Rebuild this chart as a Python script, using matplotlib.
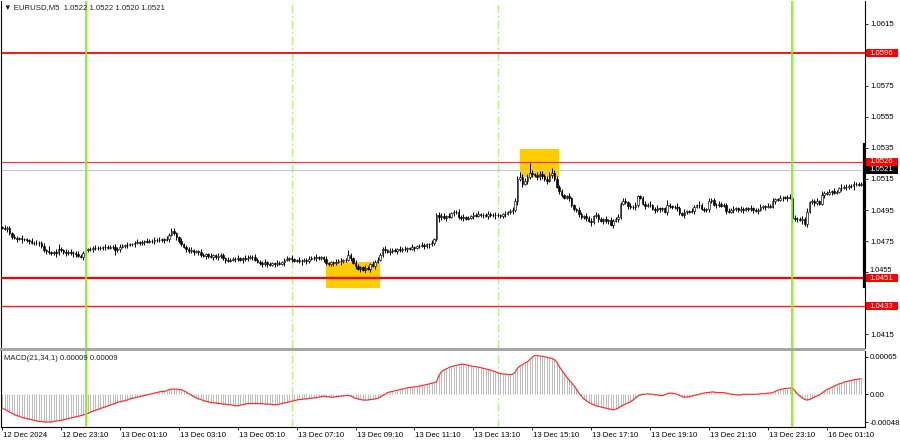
import matplotlib
matplotlib.use("Agg")
import matplotlib.pyplot as plt
import matplotlib.transforms as mtransforms
from matplotlib.patches import Rectangle
import numpy as np

# ---------------- data ----------------
BASE = 1.04000          # closes / macd stored as offsets in points (1e-5)
first_open_pts = 840
closes_pts = [
    836, 830, 834, 800, 776, 770, 765, 768, 760, 762,
    756, 748, 740, 737, 735, 738, 718, 690, 685, 678,
    672, 676, 670, 700, 690, 676, 672, 680, 670, 675,
    668, 655, 648, 675, 692, 698, 700, 705, 702, 708,
    704, 710, 712, 706, 714, 709, 690, 700, 712, 718,
    722, 726, 728, 730, 738, 742, 736, 745, 748, 744,
    752, 748, 755, 758, 754, 760, 757, 762, 790, 812,
    800, 775, 750, 730, 712, 700, 685, 690, 680, 684,
    678, 660, 655, 664, 652, 650, 658, 646, 652, 660,
    640, 628, 624, 630, 636, 632, 638, 630, 640, 634,
    642, 650, 645, 630, 615, 608, 600, 612, 604, 596,
    606, 602, 610, 604, 612, 628, 634, 640, 632, 622,
    626, 618, 624, 628, 620, 636, 642, 640, 646, 638,
    644, 635, 605, 600, 612, 606, 616, 622, 618, 625,
    630, 660, 640, 610, 590, 570, 582, 565, 578, 572,
    600, 590, 615, 630, 660, 700, 690, 680, 685, 695,
    688, 698, 692, 700, 696, 704, 700, 710, 706, 715,
    720, 725, 718, 730, 728, 735, 760, 920, 905, 912,
    900, 910, 906, 930, 940, 935, 905, 898, 902, 895,
    900, 910, 918, 914, 922, 916, 920, 912, 924, 918,
    915, 920, 916, 910, 922, 925, 935, 945, 950, 1010,
    1150, 1165, 1120, 1135, 1160, 1190, 1180, 1175, 1165, 1180,
    1170, 1150, 1140, 1175, 1190, 1150, 1100, 1075, 1045, 1030,
    1040, 1025, 980, 955, 950, 925, 905, 910, 900, 880,
    870, 910, 920, 895, 880, 890, 878, 885, 855, 880,
    895, 905, 990, 1005, 1000, 975, 968, 972, 980, 1040,
    1030, 990, 978, 985, 980, 958, 950, 962, 955, 960,
    940, 985, 975, 968, 972, 965, 930, 920, 935, 942,
    938, 945, 972, 980, 985, 958, 950, 955, 1005, 1015,
    985, 980, 990, 978, 982, 945, 940, 950, 955, 960,
    950, 958, 952, 962, 956, 960, 950, 945, 952, 968,
    975, 970, 978, 972, 1010, 1020, 1015, 1025, 1030, 1028,
    1035, 1030, 900, 890, 895, 888, 892, 860, 940, 1000,
    1010, 995, 1005, 990, 1050, 1060, 1055, 1065, 1070, 1062,
    1068, 1090, 1095, 1100, 1098, 1105, 1102, 1115, 1120, 1112,
    1118,
]
# wick lengths in pips, one digit per bar
wick_up = ("1211121121" "1121211213" "1123112121" "1211211121" "1121112121"
           "1211121112" "1121211212" "2112111211" "1211121121" "1121112112"
           "2112111211" "1121112121" "1211121121" "1121112121" "1311211121"
           "1212112121" "1121211211" "1211121122" "2121112121" "1121211121"
           "1211121122" "2322262122" "2122322111" "1211121121" "2121112121"
           "1212212121" "1121211211" "1311121121" "1211211121" "1121112121"
           "1211121112" "1121211211" "1212112121" "1121211212" "1121211211" "1")
wick_dn = ("1121112121" "1211121121" "1121112112" "2112111211" "1121113121"
           "1211211121" "1121112121" "1211121121" "2112112121" "1211121121"
           "1121112121" "1211121121" "1121211121" "1211121121" "1121212121"
           "2121112121" "1211121121" "1121211132" "1211211121" "1121112121"
           "1211121121" "3121212122" "2121211211" "1211121121" "2112121212"
           "1211121121" "1121112121" "1211121121" "1121211121" "1211121121"
           "1121112121" "1211121121" "2131213121" "1211121121" "1121211211" "1")
macd_pts = [
    -24, -26, -28, -31, -33, -35, -37, -38, -40, -41,
    -42, -43, -44, -45, -46, -47, -47, -48, -48, -48,
    -48, -47, -46, -46, -45, -44, -43, -42, -41, -40,
    -39, -38, -37, -36, -34, -33, -31, -29, -28, -26,
    -25, -23, -22, -20, -19, -17, -16, -14, -13, -12,
    -11, -10, -8, -7, -6, -5, -4, -3, -2, -1,
    0, 1, 2, 3, 4, 5, 5, 6, 8, 9,
    9, 9, 8, 8, 6, 4, 1, -1, -4, -6,
    -8, -9, -11, -12, -13, -14, -15, -15, -16, -16,
    -17, -17, -18, -18, -19, -20, -20, -19, -18, -17,
    -16, -16, -16, -16, -16, -16, -16, -17, -17, -17,
    -18, -18, -18, -17, -16, -15, -14, -13, -12, -11,
    -10, -9, -9, -8, -8, -7, -7, -6, -6, -5,
    -4, -3, -4, -4, -5, -5, -4, -4, -3, -3,
    -2, -2, -3, -5, -7, -8, -9, -10, -10, -10,
    -9, -9, -8, -7, -5, -2, 0, 3, 4, 5,
    6, 7, 8, 9, 10, 11, 12, 12, 13, 13,
    14, 15, 16, 17, 18, 19, 20, 21, 33, 39,
    42, 44, 46, 48, 49, 50, 51, 52, 52, 51,
    50, 49, 48, 48, 47, 46, 45, 44, 43, 42,
    40, 39, 37, 36, 35, 35, 34, 34, 35, 38,
    45, 49, 51, 54, 56, 60, 64, 67, 67, 66,
    66, 65, 64, 63, 62, 60, 56, 48, 42, 36,
    30, 25, 20, 15, 9, 2, -3, -8, -11, -14,
    -16, -18, -20, -21, -22, -23, -24, -25, -26, -27,
    -26, -24, -21, -19, -17, -15, -13, -10, -7, -3,
    -1, 0, 0, 1, 0, 0, -1, -1, -2, -2,
    -1, 1, 2, 2, 1, 0, -2, -4, -5, -5,
    -4, -3, -2, -1, 0, 1, 2, 3, 3, 4,
    4, 3, 3, 3, 3, 2, 1, 0, 0, -1,
    -1, -1, 0, 0, 0, 0, 0, 0, 0, 1,
    1, 1, 2, 2, 3, 5, 7, 8, 9, 10,
    10, 11, 11, 6, 1, -3, -6, -9, -10, -9,
    -7, -5, -3, -1, 2, 5, 8, 10, 12, 14,
    16, 18, 19, 21, 22, 23, 24, 25, 26, 26,
    27,
]
time_labels = ["12 Dec 2024", "12 Dec 23:10", "13 Dec 01:10", "13 Dec 03:10",
               "13 Dec 05:10", "13 Dec 07:10", "13 Dec 09:10", "13 Dec 11:10",
               "13 Dec 13:10", "13 Dec 15:10", "13 Dec 17:10", "13 Dec 19:10",
               "13 Dec 21:10", "13 Dec 23:10", "16 Dec 01:10"]
time_label_bars = [0, 24, 48, 72, 96, 120, 144, 168, 192, 216, 240, 264, 288, 312, 336]
level_prices = [1.0596, 1.0526, 1.0451, 1.0433]
level_texts = ["1.0596", "1.0526", "1.0451", "1.0433"]
bid_price = 1.0521
bid_text = "1.0521"
day_sep_bars = [34, 322]          # 13 Dec 00:00, 16 Dec 00:00
session_bars = [118, 202]         # 13 Dec 07:00, 13 Dec 14:00
zones = [(131.9, 154.0, 1.04445, 1.04617), (211.0, 227.1, 1.05161, 1.05342)]
price_ticks = [1.0415, 1.0435, 1.0455, 1.0475, 1.0495, 1.0515, 1.0535,
               1.0555, 1.0575, 1.0595, 1.0615]
price_tick_labels = ["1.0415", "", "1.0455", "1.0475", "1.0495", "1.0515", "1.0535",
                     "1.0555", "1.0575", "", "1.0615"]
macd_ticks = [0.00065, 0.0, -0.00048]
macd_tick_labels = ["0.00065", "0.00", "-0.00048"]
title_text = "\u25bc EURUSD,M5  1.0522 1.0522 1.0520 1.0521"
macd_text = "MACD(21,34,1) 0.00009 0.00009"

# ---------------- figure ----------------
W, H = 900, 441
FS = 5.6
FONT = ["Liberation Sans", "DejaVu Sans"]
plt.rcParams["font.family"] = FONT
fig = plt.figure(figsize=(W / 100, H / 100), dpi=100)
fig.patch.set_facecolor("white")

def fx(px):
    return px / W

def fy(py):
    return 1 - py / H

ax = fig.add_axes([fx(1), fy(348), fx(864), 347 / H])
axm = fig.add_axes([fx(1), fy(427), fx(864), 76 / H])

n = len(closes_pts)
x = np.arange(n)
c = np.array(closes_pts, dtype=float)
o = np.concatenate([[first_open_pts], c[:-1]])
up = np.array([int(ch) for ch in wick_up[:n]]) * 10
dn = np.array([int(ch) for ch in wick_dn[:n]]) * 10
hi = np.maximum(o, c) + up
lo = np.minimum(o, c) - dn
to_p = lambda v: BASE + np.asarray(v) / 1e5

# zones (behind)
for x0, x1, p0, p1 in zones:
    ax.add_patch(Rectangle((x0, p0), x1 - x0, p1 - p0, facecolor="#ffcc00",
                           edgecolor="none", zorder=1))

# levels
ax.axhline(level_prices[0], color="#ff0000", lw=1.3, zorder=2)
ax.axhline(level_prices[1], color="#ff3030", lw=0.8, zorder=2)
ax.axhline(level_prices[2], color="#ff0000", lw=1.6, zorder=4)
ax.axhline(level_prices[3], color="#ff2020", lw=1.0, zorder=2)
ax.axhline(bid_price, color="#c8c8c8", lw=0.8, zorder=2)

# vertical lines
for a in (ax, axm):
    for b in day_sep_bars:
        a.axvline(b, color="#7cfc00", lw=1.3, zorder=5)
    for b in session_bars:
        a.axvline(b, color="#b8f090", lw=1.0, ls=(0, (6, 2, 1.5, 2)), zorder=1.5)

# candles
ax.vlines(x, to_p(lo), to_p(hi), color="black", lw=0.7, zorder=3)
body_lo = np.minimum(o, c)
body_h = np.maximum(np.abs(c - o), 3)
bull = c >= o
ax.bar(x[bull], body_h[bull] / 1e5, bottom=to_p(body_lo[bull]), width=0.62,
       facecolor="white", edgecolor="black", linewidth=0.45, zorder=3.2)
ax.bar(x[~bull], body_h[~bull] / 1e5, bottom=to_p(body_lo[~bull]), width=0.62,
       facecolor="black", edgecolor="black", linewidth=0.45, zorder=3.2)

# right-edge black marker
ax.vlines(351.3, 1.04445, 1.05385, color="black", lw=1.6, zorder=6)

xl = (-0.45, 351.6)
ax.set_xlim(*xl)
ax.set_ylim(1.04060, 1.06298)
axm.set_xlim(*xl)
axm.set_ylim(-0.000566, 0.000749)

# MACD histogram and line
m = np.array(macd_pts) / 1e5
axm.vlines(x, 0, m, color="#bdbdbd", lw=0.75, zorder=2)
axm.plot(x, m, color="#ff2a2a", lw=0.85, zorder=3)

# axes styling
for a in (ax, axm):
    for s in a.spines.values():
        s.set_color("black")
        s.set_linewidth(0.8)
ax.spines["top"].set_visible(False)
ax.spines["bottom"].set_visible(False)
axm.spines["top"].set_visible(False)

ax.yaxis.tick_right()
ax.set_yticks(price_ticks)
ax.set_yticklabels(price_tick_labels)
ax.tick_params(axis="y", labelsize=FS, length=2.5, width=0.6, pad=1.0, colors="black")
ax.set_xticks([])
# nudge the label that sits just above the 1.0451 box
for lab in ax.get_yticklabels():
    if lab.get_text() == "1.0455":
        lab.set_transform(lab.get_transform() + mtransforms.ScaledTranslation(0, 2.5 / 100, fig.dpi_scale_trans))
        lab.set_fontsize(FS - 0.3)

axm.yaxis.tick_right()
axm.set_yticks(macd_ticks)
axm.set_yticklabels(macd_tick_labels)
axm.tick_params(axis="y", labelsize=FS, length=2.5, width=0.6, pad=1.0)
axm.set_xticks(time_label_bars)
axm.set_xticklabels(time_labels, ha="left")
axm.tick_params(axis="x", labelsize=FS, length=2.5, width=0.6, pad=1.0)
for lab in axm.get_xticklabels():
    lab.set_transform(lab.get_transform() + mtransforms.ScaledTranslation(1 / 100, 0, fig.dpi_scale_trans))

# separator between panels
fig.patches.append(Rectangle((fx(0), fy(351)), fx(865), 3 / H, transform=fig.transFigure,
                             facecolor="#a6a6a6", edgecolor="none", zorder=10))

# price labels on the axis
trans = mtransforms.blended_transform_factory(ax.transAxes, ax.transData)
half = 4.0 / 15500
for p, t in zip(level_prices, level_texts):
    ax.add_patch(Rectangle((1 + 1 / 864, p - half), 32 / 864, 2 * half, transform=trans,
                           facecolor="#ff0000", edgecolor="none", clip_on=False, zorder=20))
    ax.text(1 + 4 / 864, p, t, transform=trans, color="white", fontsize=FS,
            va="center", ha="left", clip_on=False, zorder=21)
ax.add_patch(Rectangle((1 + 1 / 864, bid_price - half), 32 / 864, 2 * half, transform=trans,
                       facecolor="black", edgecolor="none", clip_on=False, zorder=20))
ax.text(1 + 4 / 864, bid_price, bid_text, transform=trans, color="white", fontsize=FS,
        va="center", ha="left", clip_on=False, zorder=21)

# header texts
fig.text(fx(4), fy(8), title_text, fontsize=FS, va="center", ha="left", color="#202020")
fig.text(fx(4), fy(358), macd_text, fontsize=FS, va="center", ha="left", color="#202020")

fig.savefig("out.png", dpi=100, facecolor="white")
